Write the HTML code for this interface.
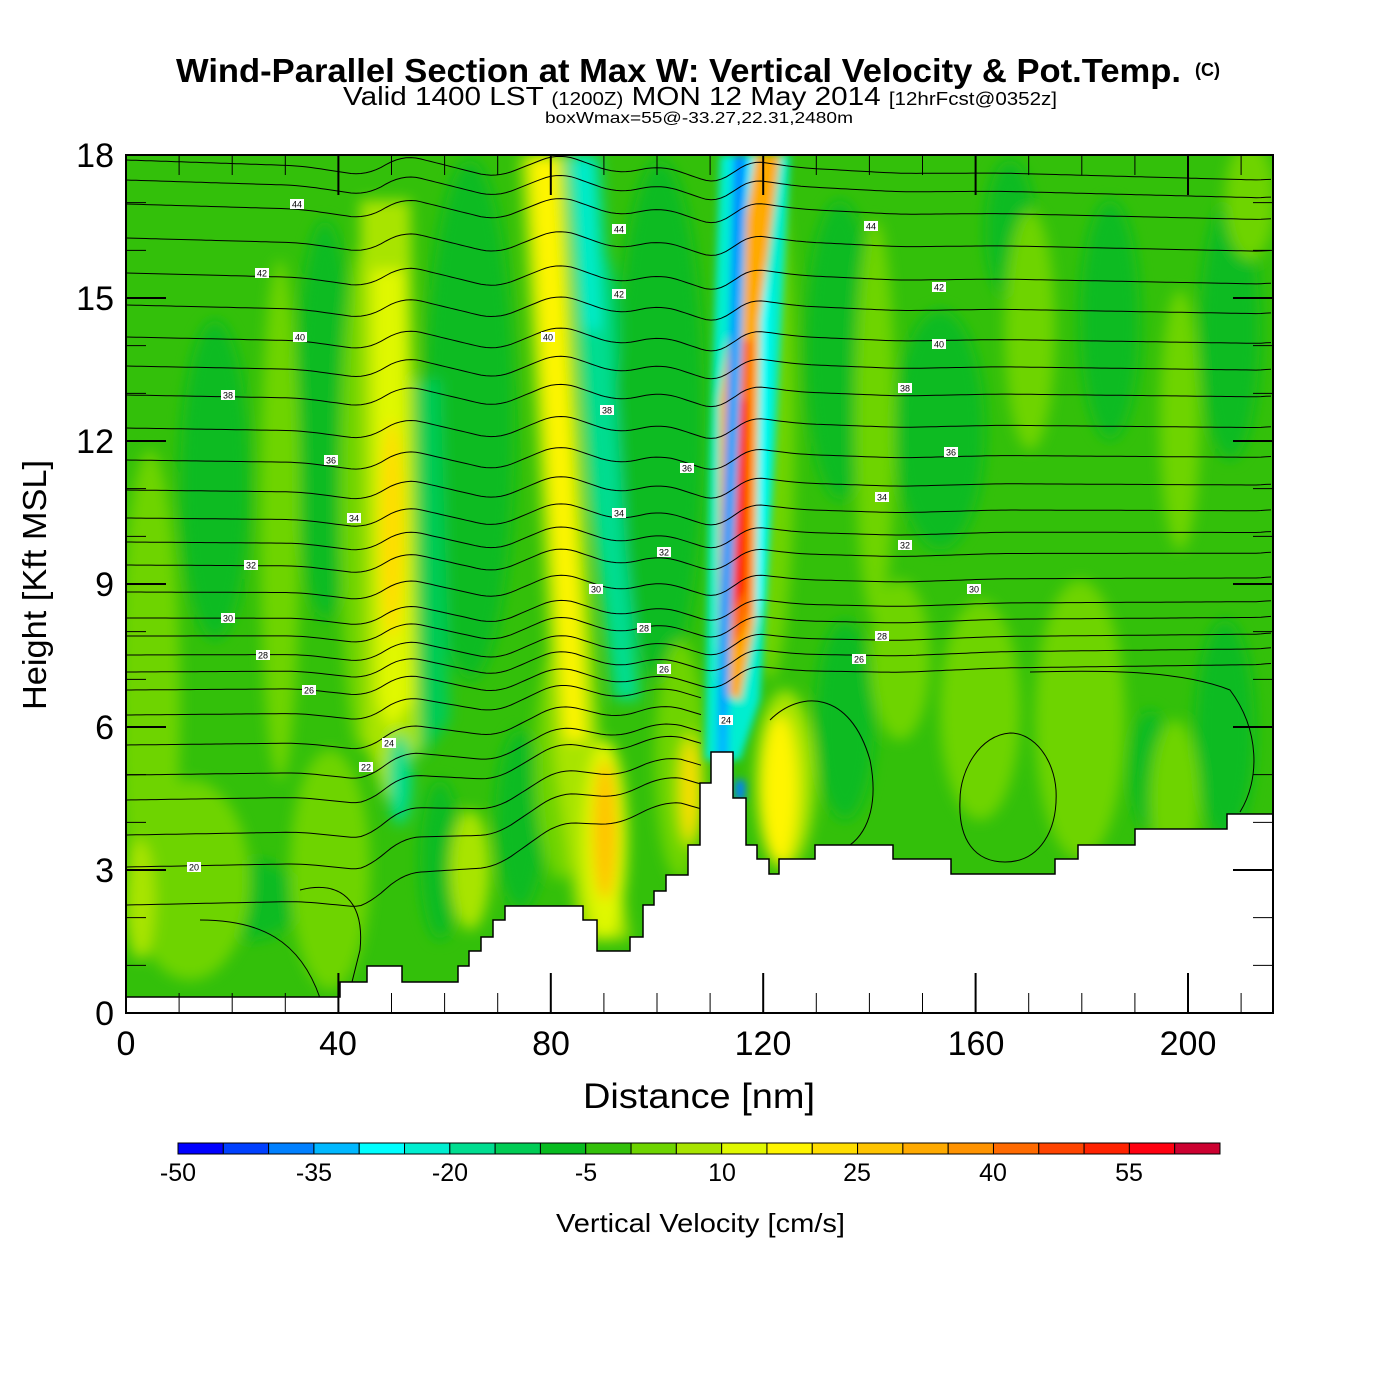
<!DOCTYPE html>
<html><head><meta charset="utf-8"><style>
html,body{margin:0;padding:0;background:#fff;}
svg{display:block;font-family:"Liberation Sans",sans-serif;}
</style></head><body>
<svg id="s" width="1400" height="1400" viewBox="0 0 1400 1400" xmlns="http://www.w3.org/2000/svg">
<defs>
<clipPath id="pc"><rect x="126" y="155" width="1147" height="858"/></clipPath>
<filter id="bl" x="-5%" y="-5%" width="110%" height="110%"><feGaussianBlur stdDeviation="7"/></filter>
<filter id="bl2"><feGaussianBlur stdDeviation="4"/></filter>
</defs>
<rect width="1400" height="1400" fill="#fff"/>
<text x="176" y="82" textLength="1005" lengthAdjust="spacingAndGlyphs" font-size="33" font-weight="bold">Wind-Parallel Section at Max W: Vertical Velocity &amp; Pot.Temp.</text>
<text x="1195" y="76" font-size="18" font-weight="bold">(C)</text>
<text x="343" y="105" textLength="714" lengthAdjust="spacingAndGlyphs" font-size="26">Valid 1400 LST <tspan font-size="18">(1200Z)</tspan> MON 12 May 2014 <tspan font-size="18">[12hrFcst@0352z]</tspan></text>
<text x="545" y="123" textLength="308" lengthAdjust="spacingAndGlyphs" font-size="16">boxWmax=55@-33.27,22.31,2480m</text>

<g clip-path="url(#pc)">
<rect x="126" y="155" width="1147" height="858" fill="#33C00A"/>
<g filter="url(#bl)">
 <g fill="#08BB20">
  <ellipse cx="215" cy="480" rx="35" ry="160"/>
  <ellipse cx="325" cy="420" rx="30" ry="200"/>
  <ellipse cx="470" cy="420" rx="45" ry="260"/>
  <ellipse cx="660" cy="420" rx="45" ry="260"/>
  <ellipse cx="840" cy="350" rx="35" ry="150"/>
  <ellipse cx="940" cy="430" rx="45" ry="120"/>
  <ellipse cx="1110" cy="320" rx="30" ry="120"/>
  <ellipse cx="1230" cy="330" rx="30" ry="130"/>
  <ellipse cx="845" cy="720" rx="30" ry="100"/>
  <ellipse cx="1225" cy="730" rx="30" ry="110"/>
  <ellipse cx="1150" cy="770" rx="20" ry="60"/>
  <ellipse cx="1010" cy="230" rx="25" ry="70"/>
  <ellipse cx="600" cy="330" rx="20" ry="80" fill="#00CC55"/>
  <ellipse cx="520" cy="820" rx="25" ry="90"/>
  <ellipse cx="440" cy="860" rx="20" ry="80"/>
  <ellipse cx="250" cy="900" rx="50" ry="40"/>
 </g>
 <g fill="#6ED400">
  <ellipse cx="150" cy="700" rx="30" ry="250"/>
  <ellipse cx="280" cy="520" rx="20" ry="260"/>
  <ellipse cx="360" cy="500" rx="20" ry="250"/>
  <ellipse cx="190" cy="880" rx="60" ry="100"/>
  <ellipse cx="330" cy="870" rx="40" ry="120"/>
  <ellipse cx="770" cy="420" rx="25" ry="260"/>
  <ellipse cx="875" cy="420" rx="20" ry="200"/>
  <ellipse cx="1030" cy="330" rx="25" ry="120"/>
  <ellipse cx="980" cy="710" rx="40" ry="110"/>
  <ellipse cx="1080" cy="720" rx="45" ry="140"/>
  <ellipse cx="1175" cy="800" rx="25" ry="80"/>
  <ellipse cx="1180" cy="420" rx="20" ry="130"/>
  <ellipse cx="900" cy="660" rx="30" ry="80"/>
  <ellipse cx="680" cy="760" rx="25" ry="120"/>
  <ellipse cx="560" cy="760" rx="25" ry="120"/>
  <ellipse cx="1250" cy="200" rx="25" ry="60"/>
 </g>
 <g fill="#A8E400">
  <ellipse cx="140" cy="900" rx="15" ry="60"/>
  <ellipse cx="470" cy="870" rx="20" ry="60"/>
  <ellipse cx="785" cy="780" rx="30" ry="90"/>
  <ellipse cx="690" cy="790" rx="15" ry="60"/>
 </g>
 <polygon points="360,200 410,200 425,740 385,800 365,740" fill="#A8E400"/>
 <polygon points="372,270 403,270 412,700 390,730 378,700" fill="#E0F800"/>
 <ellipse cx="392" cy="530" rx="12" ry="110" fill="#FFDD00"/>
 <polygon points="415,380 440,380 450,720 420,760" fill="#00CC55"/>
 <ellipse cx="400" cy="780" rx="12" ry="45" fill="#00DD90"/>
 <polygon points="520,155 565,155 600,760 630,940 580,940 555,760" fill="#A8E400"/>
 <polygon points="530,155 558,155 585,740 565,740" fill="#FFF500"/>
 <ellipse cx="605" cy="840" rx="22" ry="100" fill="#E0F800"/>
 <ellipse cx="605" cy="830" rx="12" ry="70" fill="#FFC400"/>
 <polygon points="565,155 600,155 625,550 640,700 615,700 590,500" fill="#00DD90"/>
 <polygon points="574,155 592,155 600,330 585,330" fill="#00EED0"/>
 <ellipse cx="780" cy="790" rx="18" ry="75" fill="#FFF500"/>
 <ellipse cx="690" cy="790" rx="8" ry="50" fill="#FFDD00"/>
</g>
<g filter="url(#bl2)">
 <polygon points="720,155 790,155 775,450 760,700 740,760 705,760 710,450" fill="#00EED0"/>
 <polygon points="730,155 760,155 770,300 765,600 745,650 740,400" fill="#00FFFF"/>
 <polygon points="755,155 780,155 760,320 755,620 740,700 718,690 720,400" fill="#FFAA00"/>
 <polygon points="737,340 752,340 750,610 735,650 726,560" fill="#FF6A00"/>
 <polygon points="738,400 747,400 745,590 732,610" fill="#FF2200"/>
 <polygon points="732,155 748,155 742,350 730,650 728,780 716,780 720,600 730,320" fill="#00B8FF"/>
 <polygon points="736,155 744,155 736,300 724,700 720,740 722,600" fill="#0080FF"/>
 <polygon points="735,780 745,780 745,800 735,800" fill="#0080FF"/>
</g>
<g id="iso" fill="none" stroke="#000" stroke-width="1"></g>
<g id="lab"></g>
<path d="M1010,733 C980,735 960,770 960,800 C958,840 975,862 1005,862 C1040,862 1058,830 1056,790 C1054,760 1035,733 1010,733 Z" fill="none" stroke="#000"/>
<path d="M770,720 C800,690 850,690 870,760 C878,800 870,830 850,845" fill="none" stroke="#000"/>
<path d="M1030,672 C1100,670 1180,670 1230,690 C1260,730 1260,780 1240,812" fill="none" stroke="#000"/>
<path d="M200,920 C260,920 300,940 320,998" fill="none" stroke="#000"/>
<path d="M300,890 C340,880 365,900 360,950 L350,990" fill="none" stroke="#000"/>
<polygon fill="#fff" stroke="#000" stroke-width="1.5" points="126,997 340,997 340,982 367,982 367,966 402,966 402,982 458,982 458,966 469,966 469,951 481,951 481,937 493,937 493,920 505,920 505,906 583,906 583,920 597,920 597,951 630,951 630,937 643,937 643,905 654,905 654,891 666,891 666,875 688,875 688,845 700,845 700,783 711,783 711,752 733,752 733,798 746,798 746,845 757,845 757,859 769,859 769,874 779,874 779,859 815,859 815,845 893,845 893,859 951,859 951,874 1055,874 1055,859 1078,859 1078,845 1135,845 1135,829 1227,829 1227,814 1273,814 1273,1013 126,1013"/>
</g>
<g id="ticks" stroke="#000"></g>
<rect x="126" y="155" width="1147" height="858" fill="none" stroke="#000" stroke-width="2"/>
<g font-size="34" text-anchor="middle">
<text x="126" y="1055">0</text><text x="338" y="1055">40</text><text x="551" y="1055">80</text><text x="763" y="1055">120</text><text x="976" y="1055">160</text><text x="1188" y="1055">200</text>
</g>
<g font-size="34" text-anchor="end">
<text x="114" y="1025">0</text><text x="114" y="882">3</text><text x="114" y="739">6</text><text x="114" y="596">9</text><text x="114" y="453">12</text><text x="114" y="310">15</text><text x="114" y="167">18</text>
</g>
<text x="583" y="1108" textLength="232" lengthAdjust="spacingAndGlyphs" font-size="35">Distance [nm]</text>
<text transform="translate(46,710) rotate(-90)" textLength="250" lengthAdjust="spacingAndGlyphs" font-size="33">Height [Kft MSL]</text>
<g id="cb" stroke="#000" stroke-width="1"></g>
<g font-size="25" text-anchor="middle">
<text x="178" y="1181">-50</text><text x="314" y="1181">-35</text><text x="450" y="1181">-20</text><text x="586" y="1181">-5</text><text x="722" y="1181">10</text><text x="857" y="1181">25</text><text x="993" y="1181">40</text><text x="1129" y="1181">55</text>
</g>
<text x="556" y="1232" textLength="289" lengthAdjust="spacingAndGlyphs" font-size="26">Vertical Velocity [cm/s]</text>
</svg>
<script>
var NS="http://www.w3.org/2000/svg",s=document.getElementById('s');
function el(t,a,p){var e=document.createElementNS(NS,t);for(var k in a)e.setAttribute(k,a[k]);(p||s).appendChild(e);return e;}
var cols=["#0000FF","#0040FF","#0080FF","#00B8FF","#00FFFF","#00EED0","#00DD90","#00CC55","#08BB20","#33C00A","#6ED400","#A8E400","#E0F800","#FFF500","#FFDD00","#FFC400","#FFAA00","#FF9300","#FF6A00","#FF4400","#FF2200","#FF0010","#CC0030"];
var cb=document.getElementById('cb'),w=1042/23;
cols.forEach(function(c,i){el('rect',{x:178+i*w,y:1143,width:w,height:11,fill:c},cb);});
var tk=document.getElementById('ticks');
for(var n=0;n<=216;n+=10){var x=126+n*5.31,maj=(n%40==0),L=maj?40:20;
 el('line',{x1:x,y1:1013,x2:x,y2:1013-L,'stroke-width':maj?2:1},tk);
 el('line',{x1:x,y1:155,x2:x,y2:155+L,'stroke-width':maj?2:1},tk);}
for(var h=0;h<=18;h++){var y=1013-h*47.667,maj=(h%3==0),L=maj?40:20;
 el('line',{x1:126,y1:y,x2:126+L,y2:y,'stroke-width':maj?2:1},tk);
 el('line',{x1:1273,y1:y,x2:1273-L,y2:y,'stroke-width':maj?2:1},tk);}
var base=[[19,905],[20,867],[21,835],[22,800],[23,775],[24,745],[25,715],[26,690],[27,672],[28,655],[29,636],[30,618],[31,592],[32,565],[33,542],[34,518],[35,490],[36,460],[37,428],[38,395],[39,366],[40,337],[41,305],[42,273],[43,238],[44,204],[45,180],[46,160]];
var cp=[[126,0],[300,3],[367,12],[403,-10],[496,12],[559,-14],[617,6],[662,-3],[720,16],[746,-10],[800,-3],[900,1],[1000,-1],[1273,2]];
function pert0(x){for(var i=1;i<cp.length;i++){if(x<=cp[i][0]){var a=cp[i-1],b=cp[i],t=(x-a[0])/(b[0]-a[0]);return a[1]+t*(b[1]-a[1]);}}return 0;}
function pert(x){var s=0,c=0;for(var d=-16;d<=16;d+=4){s+=pert0(x+d);c++;}return s/c;}
var iso=document.getElementById('iso');
base.forEach(function(b){var th=b[0],y0=b[1];
 var xend=(th<=25)?705:1273;
 var d="";for(var x=126;x<=xend;x+=5){
  var f=(x-126)/1147;
  var yy=y0+pert(x)+(th-38)*2.3*f;
  if(th<=25){var r=Math.max(0,Math.min(1,(x-360)/320));yy-=r*(26-th)*12;}
  d+=(d?"L":"M")+x+","+yy.toFixed(1);}
 el('path',{d:d},iso);});
var lab=document.getElementById('lab');
[[297,204,44],[262,273,42],[300,337,40],[228,395,38],[331,460,36],[354,518,34],[251,565,32],[228,618,30],[263,655,28],[309,690,26],[389,743,24],[366,767,22],[194,867,20],
 [619,229,44],[619,294,42],[548,337,40],[607,410,38],[687,468,36],[619,513,34],[664,552,32],[596,589,30],[644,628,28],[664,669,26],[726,720,24],
 [871,226,44],[939,287,42],[939,344,40],[905,388,38],[951,452,36],[882,497,34],[905,545,32],[974,589,30],[882,636,28],[859,659,26]].forEach(function(l){
 el('rect',{x:l[0]-7,y:l[1]-5,width:14,height:10,fill:'#fff'},lab);
 var t=el('text',{x:l[0],y:l[1]+3.5,'font-size':9,'text-anchor':'middle'},lab);t.textContent=l[2];});
</script>
</body></html>
